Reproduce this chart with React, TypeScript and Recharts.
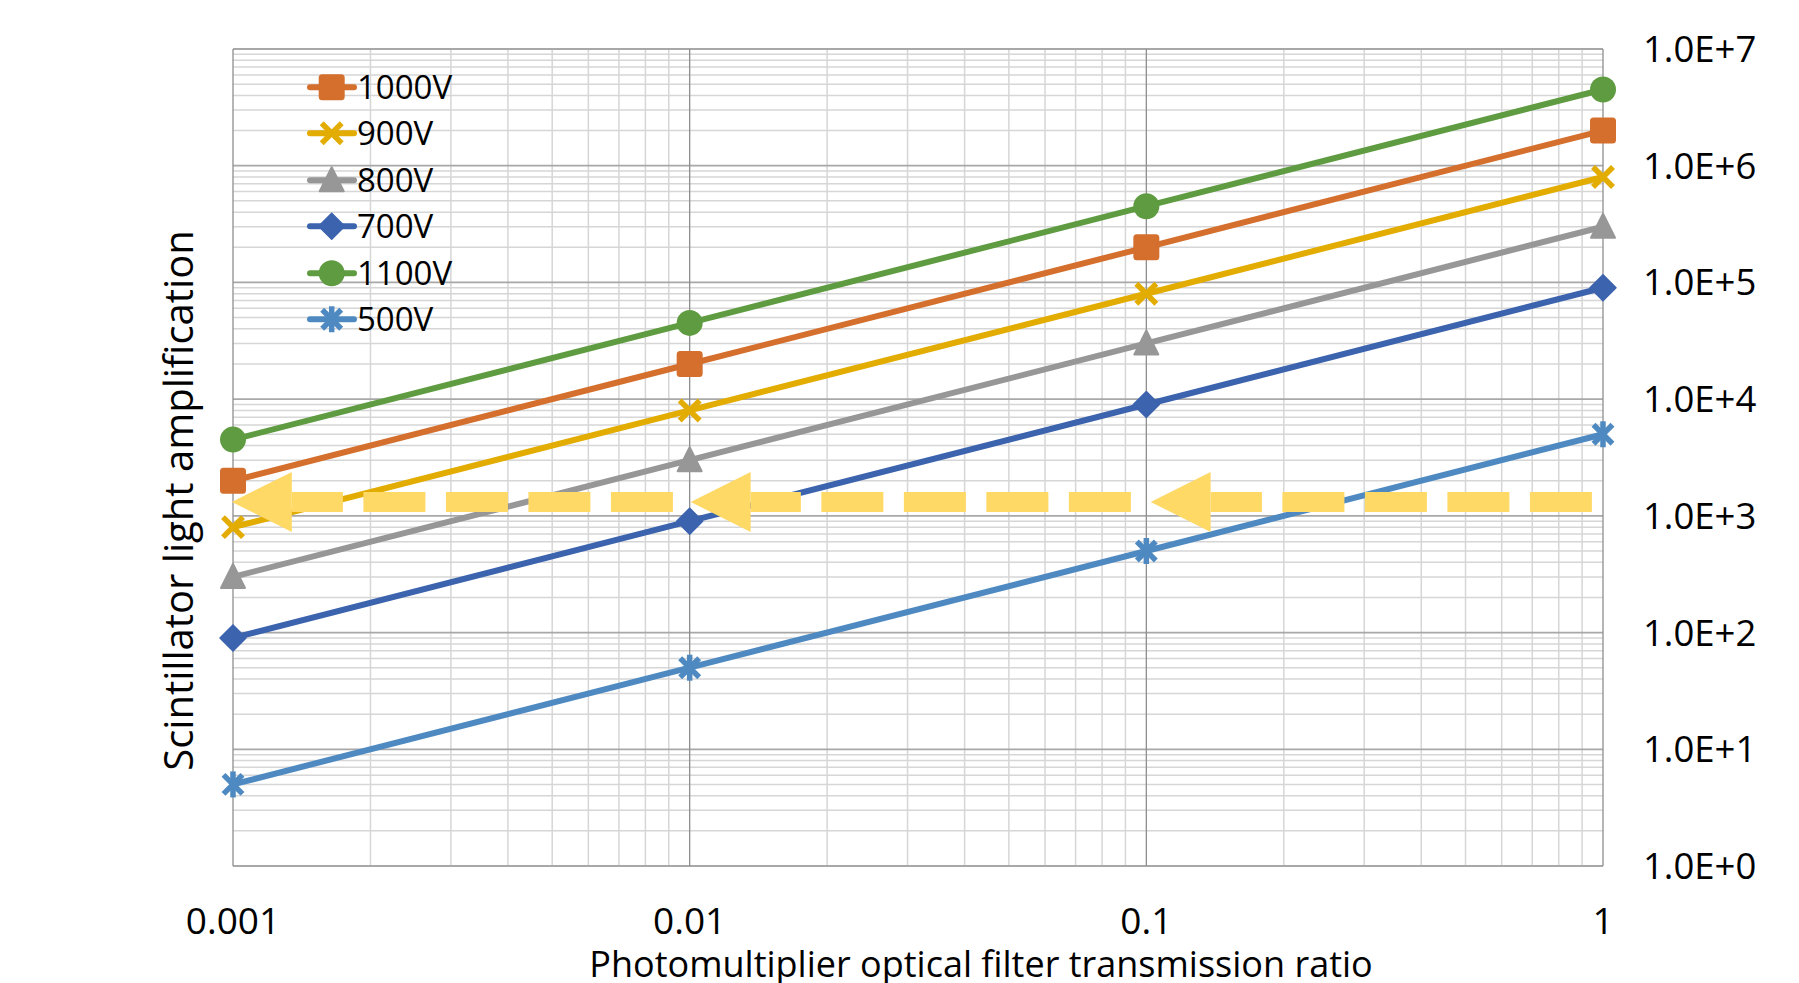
import React from 'react';
import { LineChart, Line, XAxis, YAxis, CartesianGrid, Legend, Label } from 'recharts';

// ---- data ----
const xValues = [0.001, 0.01, 0.1, 1];
const xTickLabels = ['0.001', '0.01', '0.1', '1'];
const yTicks = [1, 10, 100, 1000, 10000, 100000, 1000000, 10000000];
const yTickLabels = ['1.0E+0', '1.0E+1', '1.0E+2', '1.0E+3', '1.0E+4', '1.0E+5', '1.0E+6', '1.0E+7'];

const v1000 = [2000, 20000, 200000, 2000000];
const v900 = [800, 8000, 80000, 800000];
const v800 = [300, 3000, 30000, 300000];
const v700 = [90, 900, 9000, 90000];
const v1100 = [4500, 45000, 450000, 4500000];
const v500 = [5, 50, 500, 5000];

const seriesNames = ['1000V', '900V', '800V', '700V', '1100V', '500V'];

// annotation arrows (dashed, pointing left)
const arrowLevel = 1315;
const arrowStartX = [0.9456, 0.0925, 0.00919];
const arrowEndX = [0.1383, 0.0136, 0.001345];

// grid values
const decades = [0.001, 0.01, 0.1];
const yDecades = [1, 10, 100, 1000, 10000, 100000, 1000000];
const minorMult = [2, 3, 4, 5, 6, 7, 8, 9];
const minorX = decades.flatMap((d) => minorMult.map((m) => d * m));
const minorY = yDecades.flatMap((d) => minorMult.map((m) => d * m));

// ---- styles ----
const series = [
  { key: 'v1000', name: seriesNames[0], values: v1000, color: '#D46F2D', shape: 'square' },
  { key: 'v900', name: seriesNames[1], values: v900, color: '#E3AC00', shape: 'x' },
  { key: 'v800', name: seriesNames[2], values: v800, color: '#979797', shape: 'triangle' },
  { key: 'v700', name: seriesNames[3], values: v700, color: '#3C63AE', shape: 'diamond' },
  { key: 'v1100', name: seriesNames[4], values: v1100, color: '#5F9C41', shape: 'circle' },
  { key: 'v500', name: seriesNames[5], values: v500, color: '#4E8AC1', shape: 'star' },
];

const data = xValues.map((x, i) => {
  const row: any = { x };
  series.forEach((s) => (row[s.key] = s.values[i]));
  return row;
});

const arrows = arrowStartX.map((sx, i) => [
  { x: sx, y: arrowLevel },
  { x: arrowEndX[i], y: arrowLevel },
]);

const FONT = '"Open Sans", sans-serif';
const ARROW_COLOR = '#FFD966';

function Marker({ shape, cx, cy, color }: { shape: string; cx: number; cy: number; color: string }) {
  switch (shape) {
    case 'square':
      return <rect x={cx - 12} y={cy - 12} width={24} height={24} rx={2.5} fill={color} stroke={color} strokeWidth={2} />;
    case 'x':
      return (
        <g stroke={color} strokeWidth={5.5}>
          <line x1={cx - 10} y1={cy - 10} x2={cx + 10} y2={cy + 10} />
          <line x1={cx - 10} y1={cy + 10} x2={cx + 10} y2={cy - 10} />
        </g>
      );
    case 'triangle':
      return (
        <polygon
          points={`${cx},${cy - 13} ${cx + 12},${cy + 11} ${cx - 12},${cy + 11}`}
          fill={color}
          stroke={color}
          strokeWidth={2}
          strokeLinejoin="round"
        />
      );
    case 'diamond':
      return (
        <polygon
          points={`${cx},${cy - 13} ${cx + 13},${cy} ${cx},${cy + 13} ${cx - 13},${cy}`}
          fill={color}
          stroke={color}
          strokeWidth={1.5}
          strokeLinejoin="round"
        />
      );
    case 'circle':
      return <circle cx={cx} cy={cy} r={13} fill={color} />;
    case 'star':
      return (
        <g stroke={color} strokeWidth={5.5}>
          <line x1={cx - 9.5} y1={cy - 9.5} x2={cx + 9.5} y2={cy + 9.5} />
          <line x1={cx - 9.5} y1={cy + 9.5} x2={cx + 9.5} y2={cy - 9.5} />
          <line x1={cx} y1={cy - 13} x2={cx} y2={cy + 13} />
        </g>
      );
    default:
      return null;
  }
}

const renderLegend = () => (
  <div style={{ display: 'flex', flexDirection: 'column', fontFamily: FONT }}>
    {series.map((s) => (
      <div key={s.key} style={{ display: 'flex', alignItems: 'center', height: 46.5 }}>
        <svg width={52} height={46.5} style={{ display: 'block' }}>
          <line x1={5} x2={49} y1={23.25} y2={23.25} stroke={s.color} strokeWidth={6} strokeLinecap="round" />
          <Marker shape={s.shape} cx={26.7} cy={23.25} color={s.color} />
        </svg>
        <span style={{ fontSize: 33, lineHeight: '46.5px', color: '#000', whiteSpace: 'nowrap' }}>{s.name}</span>
      </div>
    ))}
  </div>
);

const YTitle = (props: any) => {
  const vb = props.viewBox || { x: 0, y: 0, width: 0, height: 0 };
  const cx = vb.x + 185;
  const cy = vb.y + vb.height / 2 + 43;
  return (
    <text
      x={0}
      y={0}
      transform={`translate(${cx},${cy}) rotate(-90)`}
      textAnchor="middle"
      fontFamily={FONT}
      fontSize={40}
      fill="#000"
    >
      Scintillator light amplification
    </text>
  );
};

const XTitle = (props: any) => {
  const vb = props.viewBox || { x: 0, y: 0, width: 0, height: 0 };
  const cx = vb.x + vb.width / 2 + 63;
  const cy = vb.y + 111;
  return (
    <text x={cx} y={cy} textAnchor="middle" fontFamily={FONT} fontSize={36} fill="#000">
      Photomultiplier optical filter transmission ratio
    </text>
  );
};

export default function App() {
  return (
    <div style={{ fontFamily: FONT }}>
      <LineChart width={1791} height={975} data={data} margin={{ top: 41, right: 0, bottom: 0, left: 0 }}>
        <CartesianGrid
          horizontalValues={minorY}
          verticalValues={minorX}
          syncWithTicks
          stroke="#D6D6D6"
          strokeWidth={1.5}
        />
        <CartesianGrid
          horizontalValues={yTicks}
          verticalValues={[]}
          vertical={false}
          syncWithTicks
          stroke="#A8A8A8"
          strokeWidth={1.8}
        />
        <CartesianGrid
          horizontalValues={[]}
          horizontal={false}
          verticalValues={xValues}
          syncWithTicks
          stroke="#8E8E8E"
          strokeWidth={1.3}
        />
        <XAxis
          dataKey="x"
          type="number"
          scale="log"
          domain={[0.001, 1]}
          ticks={xValues}
          tickFormatter={(v: number) => xTickLabels[xValues.indexOf(v)] ?? String(v)}
          height={117}
          axisLine={false}
          tickLine={false}
          tickSize={0}
          tickMargin={42}
          tick={{ fill: '#000', fontSize: 37, fontFamily: FONT }}
          interval={0}
        >
          <Label content={XTitle} />
        </XAxis>
        <YAxis
          orientation="right"
          scale="log"
          domain={[1, 10000000]}
          ticks={yTicks}
          tickFormatter={(v: number) => yTickLabels[yTicks.indexOf(v)] ?? String(v)}
          width={196}
          axisLine={false}
          tickLine={false}
          tickSize={0}
          tickMargin={40}
          tick={{ fill: '#000', fontSize: 36.5, fontFamily: FONT, textAnchor: 'start' }}
          interval={0}
        />
        <YAxis yAxisId="title" orientation="left" width={225} tick={false} axisLine={false} tickLine={false}>
          <Label content={YTitle} />
        </YAxis>
        <Legend
          layout="vertical"
          align="center"
          verticalAlign="middle"
          content={renderLegend}
          wrapperStyle={{ left: 297, top: 55.5, width: 220, height: 280 }}
        />
        {series.map((s) => (
          <Line
            key={s.key}
            dataKey={s.key}
            name={s.name}
            stroke={s.color}
            strokeWidth={6}
            isAnimationActive={false}
            activeDot={false}
            dot={(p: any) => <Marker key={`${s.key}-${p.index}`} shape={s.shape} cx={p.cx} cy={p.cy} color={s.color} />}
          />
        ))}
        {arrows.map((a, i) => (
          <Line
            key={`arrow-${i}`}
            data={a}
            dataKey="y"
            stroke={ARROW_COLOR}
            strokeWidth={20}
            strokeDasharray="62 20.5"
            strokeLinecap="butt"
            isAnimationActive={false}
            activeDot={false}
            legendType="none"
            dot={(p: any) =>
              p.index === 1 ? (
                <polygon
                  key={`ah-${i}`}
                  points={`${p.cx - 60},${p.cy} ${p.cx},${p.cy - 30} ${p.cx},${p.cy + 30}`}
                  fill={ARROW_COLOR}
                />
              ) : (
                <g key={`ah0-${i}`} />
              )
            }
          />
        ))}
      </LineChart>
    </div>
  );
}
